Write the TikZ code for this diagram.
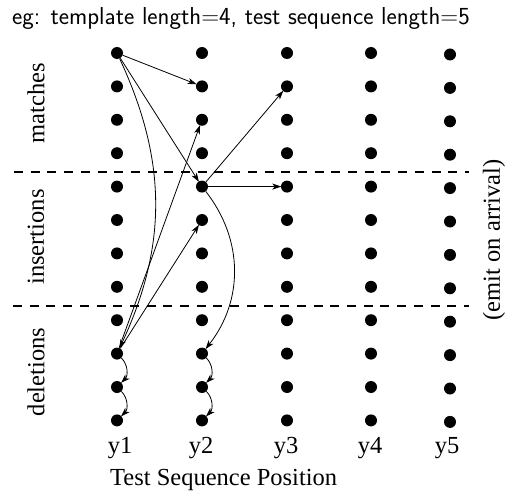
\documentclass[tikz,border=0pt]{standalone}
\usepackage{fontspec}
\setmainfont{Liberation Serif}
\usetikzlibrary{arrows.meta}
\begin{document}
\begin{tikzpicture}[x=1pt,y=1pt,
  dot/.style={circle,fill=black,inner sep=0pt,minimum size=12pt},
  arr/.style={line width=0.8pt,-{Stealth[length=9pt,width=6pt,inset=2.5pt]},shorten >=-0.5pt},
  divider/.style={line width=2pt,dash pattern=on 9pt off 7.7pt},
  lab/.style={font=\fontsize{24.5}{29}\selectfont,inner sep=0pt},
  ttl/.style={font=\fontsize{24.5}{29}\selectfont\sffamily,inner sep=0pt}]
\useasboundingbox (0,0) rectangle (506,-492);
% dots
\foreach \c/\x in {1/117,2/202,3/287,4/371}{
  \foreach \r in {1,...,12}{
    \node[dot] (n\c-\r) at (\x,{-53-(\r-1)*33.4}) {};
  }
}
\foreach \r in {1,...,12}{
  \node[dot] (n5-\r) at (450,{-54.5-(\r-1)*33.4}) {};
}
% dividers
\coordinate (dl1) at (14,-172);
\coordinate (dr1) at (469,-172);
\coordinate (dl2) at (13,-306);
\coordinate (dr2) at (469,-306);
\draw[divider] (dl1) -- (dr1);
\draw[divider] (dl2) -- (dr2);
% arrows
\draw[arr] (n1-1) -- (n2-2);
\draw[arr] (n1-1) -- (n2-5);
\draw[arr] (n1-1) to[bend left=25] (n1-10);
\draw[arr] (n1-10) -- (n2-3);
\draw[arr] (n1-10) -- (n2-6);
\draw[arr] (n2-5) -- (n3-2);
\draw[arr] (n2-5) -- (n3-5);
\draw[arr] (n2-5) to[bend left=38] (n2-10);
\draw[arr] (n1-10) to[bend left=45] (n1-11);
\draw[arr] (n1-11) to[bend left=45] (n1-12);
\draw[arr] (n2-10) to[bend left=45] (n2-11);
\draw[arr] (n2-11) to[bend left=45] (n2-12);
% labels
\node[ttl,anchor=base west] (title) at (12,-25) {eg: template length=4, test sequence length=5};
\node[lab,anchor=base] (y1) at (120,-453) {y1};
\node[lab,anchor=base] (y2) at (201,-453) {y2};
\node[lab,anchor=base] (y3) at (286,-453) {y3};
\node[lab,anchor=base] (y4) at (370,-453) {y4};
\node[lab,anchor=base] (y5) at (447,-453) {y5};
\node[lab,anchor=base west] (xlab) at (110,-485) {Test Sequence Position};
\node[lab,rotate=90] (m) at (36,-103) {matches};
\node[lab,rotate=90] (i) at (36,-237) {insertions};
\node[lab,rotate=90] (d) at (36,-372) {deletions};
\node[lab,rotate=90] (e) at (494,-240) {(emit on arrival)};
\end{tikzpicture}
\end{document}
